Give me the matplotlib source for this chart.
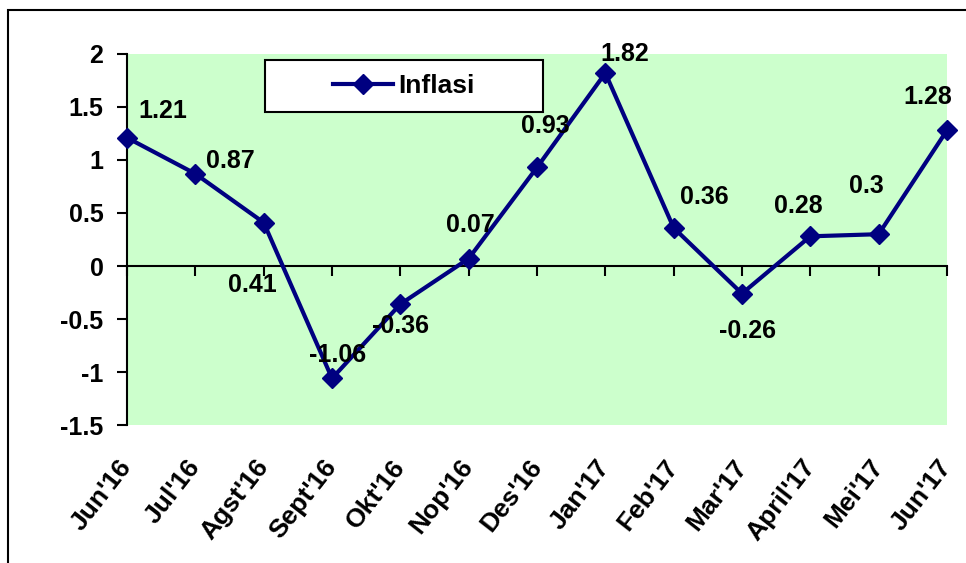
"""
Monthly inflation line chart, Jun'16 - Jun'17.
"""
import matplotlib
matplotlib.use('Agg')
import matplotlib.pyplot as plt
from matplotlib.patches import Rectangle
from matplotlib.ticker import FuncFormatter

plt.rcParams['font.family'] = ['Liberation Sans', 'DejaVu Sans']
plt.rcParams['font.weight'] = 'bold'
plt.rcParams['font.size'] = 18

months = ["Jun'16", "Jul'16", "Agst'16", "Sept'16", "Okt'16", "Nop'16", "Des'16",
          "Jan'17", "Feb'17", "Mar'17", "April'17", "Mei'17", "Jun'17"]
inflasi = [1.21, 0.87, 0.41, -1.06, -0.36, 0.07, 0.93, 1.82, 0.36, -0.26, 0.28, 0.3, 1.28]
y_ticks = [-1.5, -1, -0.5, 0, 0.5, 1, 1.5, 2]

# label placement relative to each point, in points
label_offsets = [(26, 19), (25, 9), (-8, -45), (4, 17), (0, -16), (1, 24), (6, 30),
                 (14, 14), (22, 22), (4, -27), (-9, 22), (-9, 35), (-14, 24)]

LINE_COLOR = '#000080'
BG_COLOR = '#CCFFCC'

fig = plt.figure(figsize=(9.66, 5.63), dpi=100)
ax = fig.add_axes([0.1315, 0.2451, 0.9803 - 0.1315, 0.9041 - 0.2451])
ax.set_facecolor(BG_COLOR)

x = list(range(len(months)))
line, = ax.plot(x, inflasi, color=LINE_COLOR, linewidth=3, marker='D',
                markersize=10, markerfacecolor=LINE_COLOR,
                markeredgecolor=LINE_COLOR, label='Inflasi', zorder=3,
                clip_on=False)

for xi, v, (dx, dy) in zip(x, inflasi, label_offsets):
    ax.annotate(f'{v:g}', (xi, v), xytext=(dx, dy), textcoords='offset points',
                ha='center', va='center', fontsize=18, fontweight='bold',
                zorder=4)

ax.set_xlim(0, len(months) - 1)
ax.set_ylim(-1.5, 2)
ax.set_yticks(y_ticks)
ax.yaxis.set_major_formatter(FuncFormatter(lambda v, _: f'{v:g}'))
ax.tick_params(axis='y', direction='out', length=7, width=1.5, pad=10,
               labelsize=18)

ax.set_xticks(x)
ax.set_xticklabels(months, rotation=52, ha='right', va='center',
                   rotation_mode='anchor', fontsize=19, fontweight='bold')
ax.tick_params(axis='x', length=0, pad=27)

for side in ['top', 'right', 'bottom']:
    ax.spines[side].set_visible(False)
ax.spines['left'].set_linewidth(1.5)

# category axis drawn along y = 0
zero_ax = ax.secondary_xaxis(0, transform=ax.transData)
zero_ax.set_xticks(x)
zero_ax.set_xticklabels([])
zero_ax.tick_params(axis='x', direction='out', length=7, width=1.5)
zero_ax.spines['bottom'].set_linewidth(1.5)
zero_ax.set_zorder(1)

# legend box
ax.add_patch(Rectangle((0.168, 0.844), 0.339, 0.140, transform=ax.transAxes,
                       facecolor='white', edgecolor='black', linewidth=1.5,
                       zorder=5))
leg = ax.legend(handles=[line], loc='center', bbox_to_anchor=(0.3375, 0.914),
                frameon=False, handlelength=2.3, handletextpad=0.2,
                prop={'size': 19, 'weight': 'bold'})
leg.set_zorder(6)

# outer border
fig.add_artist(Rectangle((8 / 966, -0.05), 1.1, 1.05 - 10 / 563,
                         transform=fig.transFigure, fill=False,
                         edgecolor='black', linewidth=1.5))

fig.savefig('out.png', dpi=100)
